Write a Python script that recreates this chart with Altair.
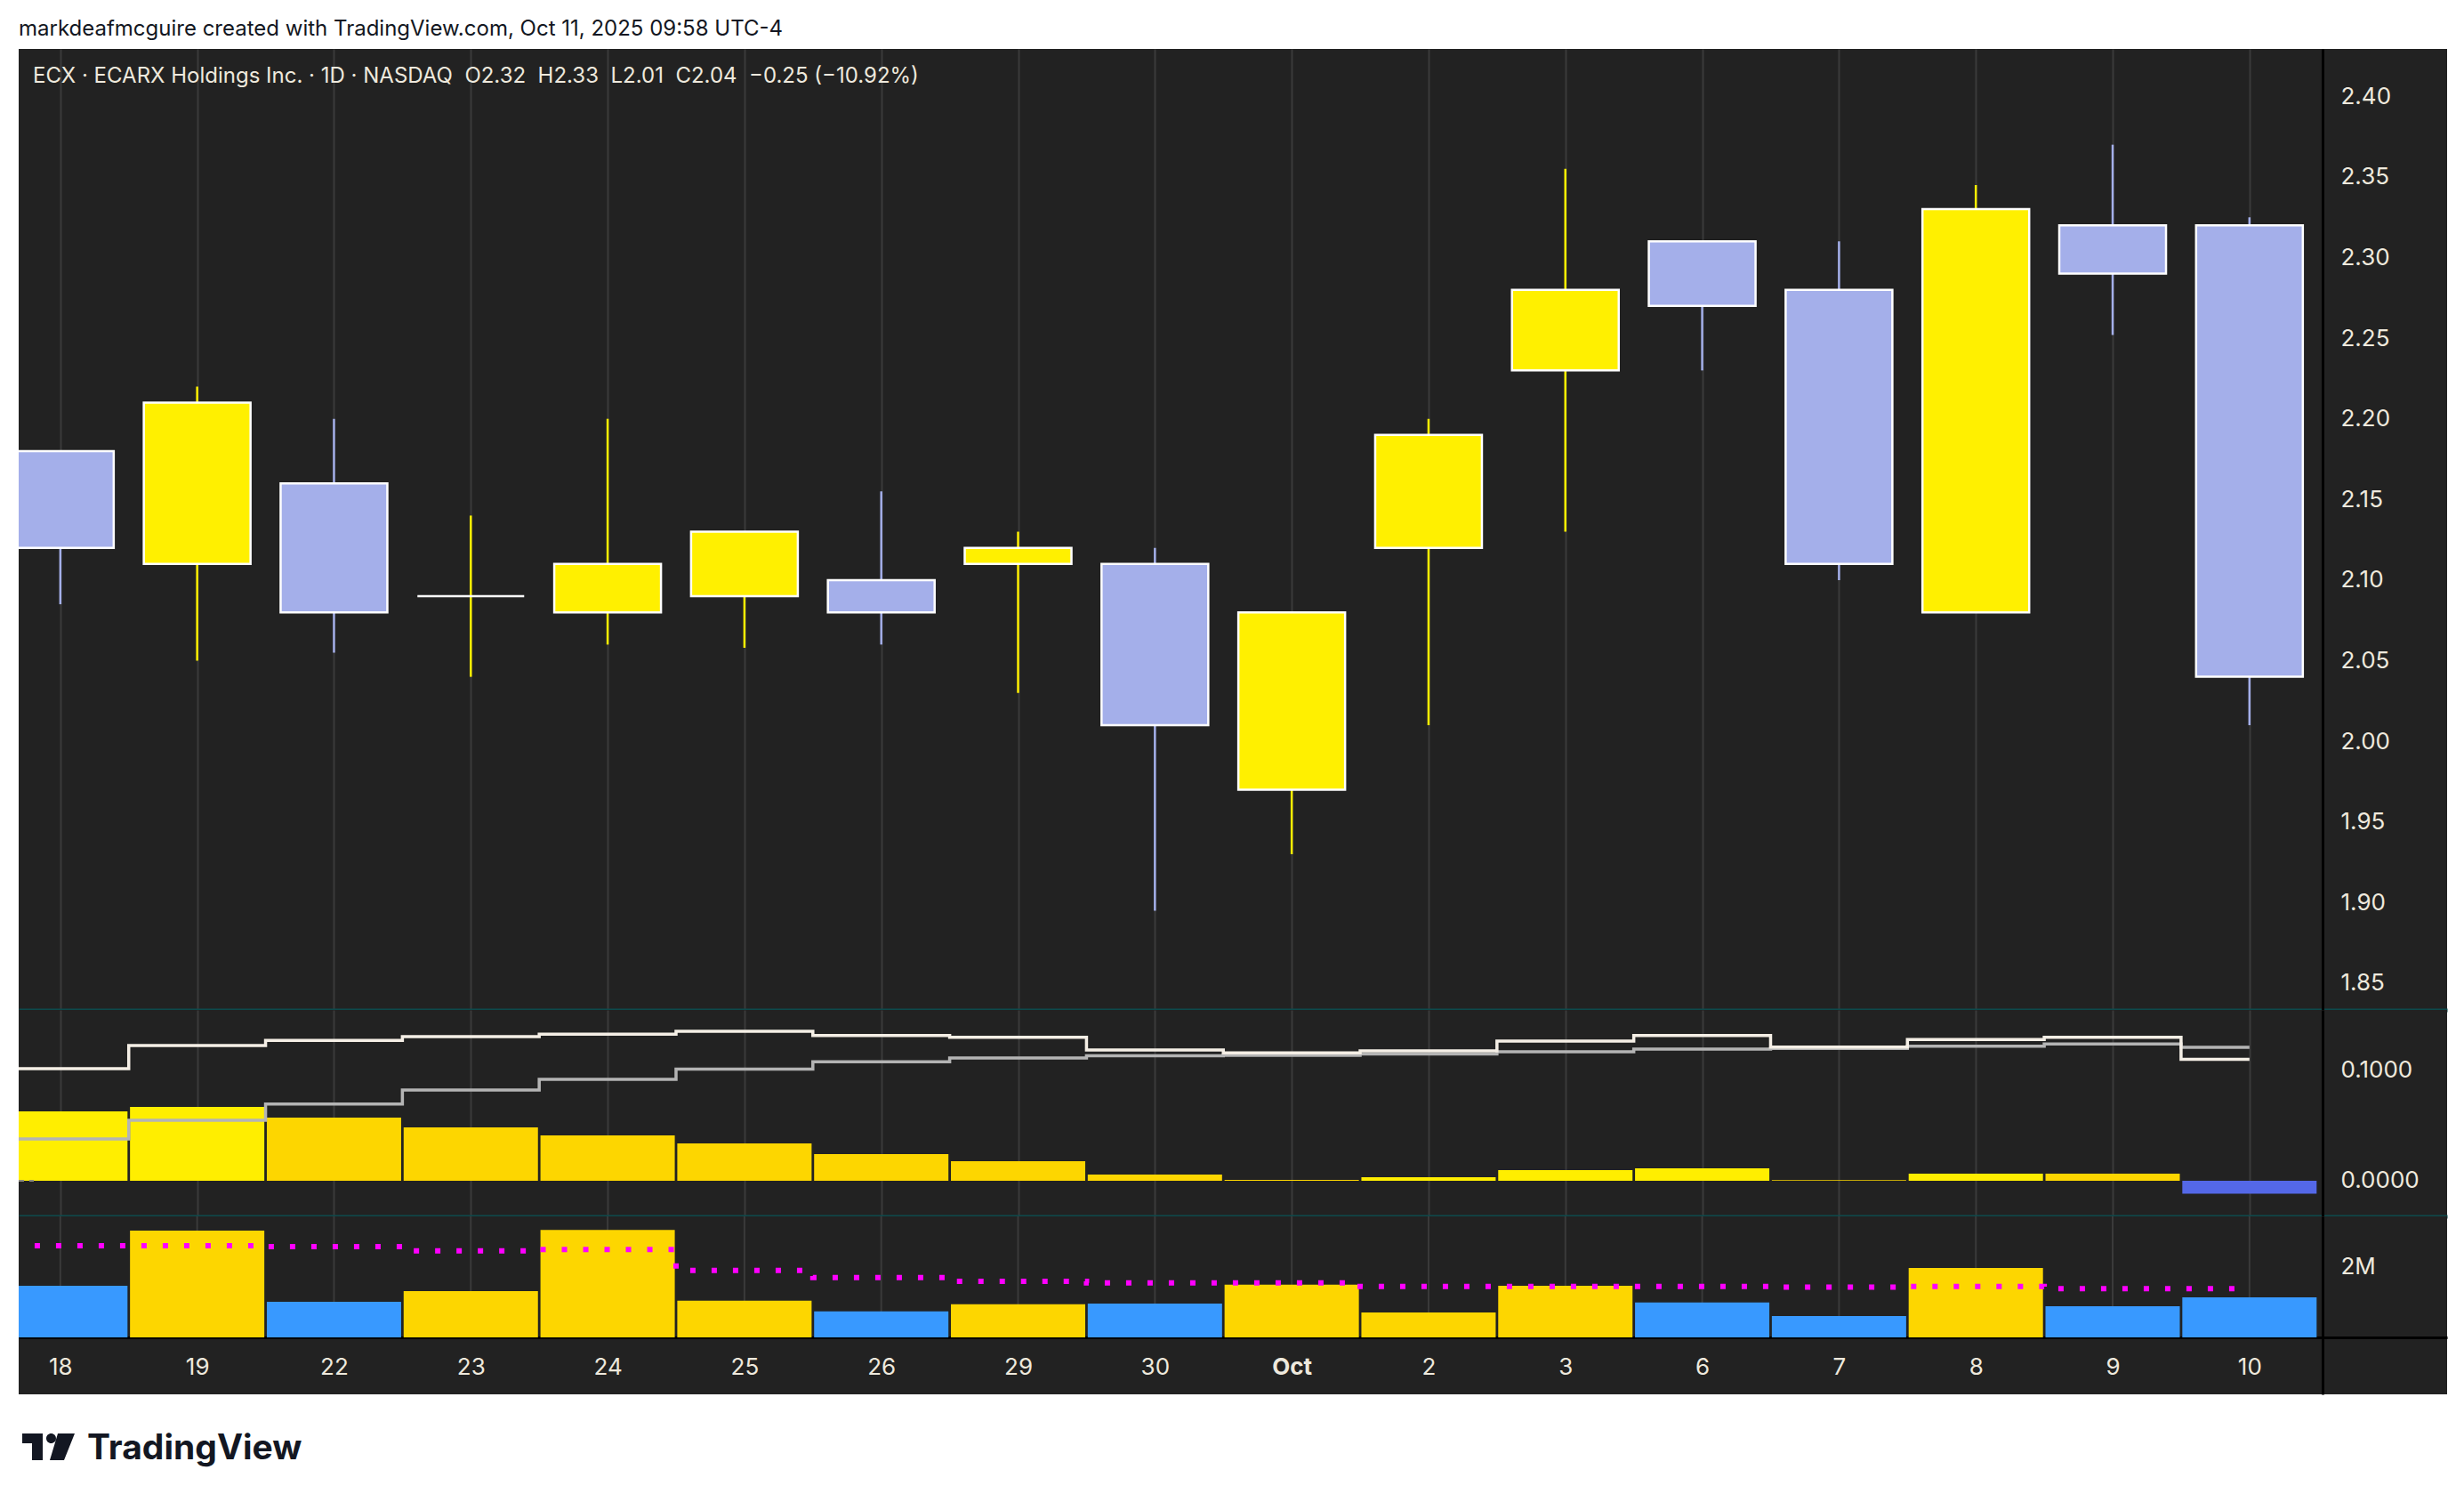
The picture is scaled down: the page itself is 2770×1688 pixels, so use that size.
import altair as alt
import pandas as pd

# ---------------- data ----------------
labels = ["18", "19", "22", "23", "24", "25", "26", "29", "30", "Oct",
          "2", "3", "6", "7", "8", "9", "10"]
open_ = [2.18, 2.11, 2.16, 2.09, 2.08, 2.09, 2.10, 2.11, 2.11, 1.97,
         2.12, 2.23, 2.31, 2.28, 2.08, 2.32, 2.32]
high_ = [2.18, 2.22, 2.20, 2.14, 2.20, 2.13, 2.155, 2.13, 2.12, 2.08,
         2.20, 2.355, 2.31, 2.31, 2.345, 2.37, 2.325]
low_ = [2.085, 2.05, 2.055, 2.04, 2.06, 2.058, 2.06, 2.03, 1.895, 1.93,
        2.01, 2.13, 2.23, 2.10, 2.08, 2.252, 2.01]
close_ = [2.12, 2.21, 2.08, 2.09, 2.11, 2.13, 2.08, 2.12, 2.01, 2.08,
          2.19, 2.28, 2.27, 2.11, 2.33, 2.29, 2.04]

macd_line = [0.1016, 0.1226, 0.1272, 0.1306, 0.1328, 0.1355, 0.1317, 0.1301, 0.1185,
             0.1159, 0.1177, 0.1266, 0.1317, 0.1212, 0.1280, 0.1301, 0.1100]
signal_line = [0.0379, 0.0548, 0.0696, 0.0823, 0.0919, 0.1011, 0.1078, 0.1113, 0.1132,
               0.1137, 0.1148, 0.1169, 0.1194, 0.1199, 0.1220, 0.1240, 0.1210]
histogram = [0.0629, 0.0669, 0.0573, 0.0484, 0.0411, 0.0339, 0.0242, 0.0177, 0.0056,
             0.0008, 0.0032, 0.0097, 0.0113, 0.0005, 0.0064, 0.0064, -0.0118]

volume_m = [1.45, 3.0, 1.0, 1.3, 3.02, 1.03, 0.73, 0.93, 0.95, 1.48,
            0.70, 1.45, 0.98, 0.60, 1.95, 0.875, 1.125]
volume_ma_m = [2.575, 2.575, 2.55, 2.43, 2.47, 1.88, 1.68, 1.575, 1.53, 1.53,
               1.43, 1.43, 1.43, 1.41, 1.43, 1.37, 1.37]

price_ticks = [1.85, 1.90, 1.95, 2.00, 2.05, 2.10, 2.15, 2.20, 2.25, 2.30, 2.35, 2.40]
macd_ticks = [0.0, 0.1]
volume_ticks = [2]

credit = "markdeafmcguire created with TradingView.com, Oct 11, 2025 09:58 UTC-4"
header = ("ECX \u00b7 ECARX Holdings Inc. \u00b7 1D \u00b7 NASDAQ\u00a0\u00a0O2.32\u00a0\u00a0H2.33"
          "\u00a0\u00a0L2.01\u00a0\u00a0C2.04\u00a0\u00a0\u22120.25 (\u221210.92%)")
brand = "TradingView"

# ---------------- styling ----------------
BG = "#222222"
GRID = "#3a3a3a"
TEAL = "#0d4a4c"
TEXT = "#EEE9DD"
UP = "#FFF000"
DOWN = "#A4AFEA"
VOL_UP = "#FDD600"
VOL_DOWN = "#3899FF"
H_GROW = "#FFEE00"
H_FADE = "#FDD600"
H_NEG = "#5468E8"
FONT = "Inter"

W = 2730
n = len(labels)
last = n - 1

df = pd.DataFrame({
    "idx": list(range(n)), "label": labels,
    "open": open_, "high": high_, "low": low_, "close": close_,
    "macd": macd_line, "signal": signal_line, "hist": histogram,
    "vol": volume_m, "volma": volume_ma_m,
})

xscale = alt.Scale(domain=[-0.272, 17.412], nice=False, zero=False)
price_scale = alt.Scale(domain=[1.8334, 2.4294], nice=False, zero=False)
macd_scale = alt.Scale(domain=[-0.0323, 0.1548], nice=False, zero=False)
vol_dom = [-1.6, 3.4]
vol_scale = alt.Scale(domain=vol_dom, nice=False, zero=False)

candle_color = alt.Color("cdir:N", legend=None,
                         scale=alt.Scale(domain=["up", "down"], range=[UP, DOWN]))
vol_color = alt.Color("vdir:N", legend=None,
                      scale=alt.Scale(domain=["vup", "vdown"], range=[VOL_UP, VOL_DOWN]))

label_expr = "[" + ",".join("'%s'" % l for l in labels) + "][datum.value]"

pane_bg = alt.ViewBackground(fill=BG, stroke="transparent", strokeWidth=0)


def pane_x_axis():
    return alt.Axis(values=list(range(n)), labels=False, ticks=False, tickSize=0,
                    grid=True, gridColor=GRID, gridWidth=2,
                    domain=True, domainColor=TEAL, domainWidth=4, title=None)


def right_axis(values, fmt=None, expr=None):
    kw = dict(orient="right", offset=-140, values=values, grid=False, ticks=False,
              tickSize=0, labelPadding=20, labelFont=FONT, labelFontSize=26,
              labelColor=TEXT, labelBaseline="middle", domainColor="#000000",
              domainWidth=3, title=None, labelOverlap=False, labelFlush=False)
    if fmt:
        kw["format"] = fmt
    if expr:
        kw["labelExpr"] = expr
    return alt.Axis(**kw)


base = alt.Chart(df).transform_calculate(
    cdir="datum.close >= datum.open ? 'up' : 'down'",
    vdir="datum.close >= datum.open ? 'vup' : 'vdown'",
)


def step_line(field, yscale, color, width, dash=None):
    mk = dict(color=color, strokeWidth=width, clip=True, interpolate="linear")
    if dash:
        mk["strokeDash"] = dash
    return alt.Chart(df).transform_calculate(
        xs="[datum.idx - 0.5, min(datum.idx + 0.5, %d)]" % last
    ).transform_flatten(["xs"]).transform_calculate(
        ordk="datum.xs + datum.idx * 0.001"
    ).mark_line(**mk).encode(
        x=alt.X("xs:Q", scale=xscale, title=None),
        y=alt.Y(field + ":Q", scale=yscale, title=None),
        order=alt.Order("ordk:Q"),
    )


# ---------------- price pane ----------------
wicks = base.mark_rule(strokeWidth=2.5, clip=True).encode(
    x=alt.X("idx:Q", scale=xscale, axis=pane_x_axis()),
    y=alt.Y("low:Q", scale=price_scale, axis=right_axis(price_ticks, fmt=".2f")),
    y2="high:Q",
    color=candle_color,
)
bodies = base.mark_bar(width=120, stroke="#FFFFFF", strokeWidth=2.5, clip=True).encode(
    x=alt.X("idx:Q", scale=xscale, title=None),
    y=alt.Y("open:Q", scale=price_scale, title=None),
    y2="close:Q",
    color=candle_color,
)
head = alt.Chart(pd.DataFrame({"t": [header]})).mark_text(
    align="left", baseline="middle", font=FONT, fontSize=24, color=TEXT
).encode(x=alt.value(16), y=alt.value(31), text="t:N")

price = alt.layer(wicks, bodies, head).properties(width=W, height=1080, view=pane_bg)

# ---------------- MACD pane ----------------
hist_bars = alt.Chart(df).transform_window(
    prev="lag(hist)", sort=[alt.SortField("idx")]
).transform_calculate(
    state="datum.hist < 0 ? 'neg' : ((datum.prev == null || datum.hist > datum.prev) ? 'grow' : 'fade')"
).mark_bar(width=151, clip=True).encode(
    x=alt.X("idx:Q", scale=xscale, axis=pane_x_axis()),
    y=alt.Y("hist:Q", scale=macd_scale, axis=right_axis(macd_ticks, fmt=".4f")),
    y2=alt.datum(0),
    color=alt.Color("state:N", legend=None,
                    scale=alt.Scale(domain=["grow", "fade", "neg"], range=[H_GROW, H_FADE, H_NEG])),
)
zero_rule = alt.Chart(df).mark_rule(
    color="#8c8a78", strokeWidth=2, strokeDash=[6, 6]
).encode(x=alt.value(0), x2=alt.datum(last + 0.5), y=alt.datum(0))

macd = alt.layer(
    hist_bars, zero_rule,
    step_line("signal", macd_scale, "#B4B4B4", 3.5),
    step_line("macd", macd_scale, "#F5EFE6", 3.5),
).properties(width=W, height=232, view=pane_bg)

# ---------------- volume pane ----------------
vgrid = alt.Chart(df).mark_rule(color=GRID, strokeWidth=2).encode(
    x=alt.X("idx:Q", scale=xscale, title=None),
    y=alt.datum(vol_dom[1]),
    y2=alt.datum(0),
)
vol_bars = base.mark_bar(width=151, clip=True).encode(
    x=alt.X("idx:Q", scale=xscale, axis=alt.Axis(
        orient="bottom", offset=-64, values=list(range(n)), labelExpr=label_expr,
        grid=False, ticks=False, tickSize=0, labelPadding=33, labelBaseline="middle",
        labelFont=FONT, labelFontSize=26, labelColor=TEXT,
        labelFontWeight={"condition": {"test": "datum.value == 9", "value": "bold"},
                         "value": "normal"},
        labelFlush=False, labelOverlap=False,
        domainColor="#000000", domainWidth=3, title=None)),
    y=alt.Y("vol:Q", scale=vol_scale, axis=right_axis(volume_ticks, expr="datum.value + 'M'")),
    y2=alt.datum(0),
    color=vol_color,
)
vol = alt.layer(
    vgrid, vol_bars,
    step_line("volma", vol_scale, "#FF00FF", 6, dash=[6, 18]),
).properties(width=W, height=200, view=pane_bg)

# ---------------- brand footer ----------------
def sc(x, y):
    return "%.4f,%.4f" % ((x - 29.5) / 29.5, (y - 15) / 29.5)

r = 5.5 / 29.5
logo_path = (
    "M" + sc(0, 0) + " L" + sc(23, 0) + " L" + sc(23, 30) + " L" + sc(11, 30) +
    " L" + sc(11, 11) + " L" + sc(0, 11) + " Z " +
    "M" + sc(27, 5.5) + " A%.4f,%.4f 0 1,0 " % (r, r) + sc(38, 5.5) +
    " A%.4f,%.4f 0 1,0 " % (r, r) + sc(27, 5.5) + " Z " +
    "M" + sc(40, 0) + " L" + sc(59, 0) + " L" + sc(47, 30) + " L" + sc(31, 30) + " Z"
)
brand_df = pd.DataFrame({"t": [brand]})
logo = alt.Chart(brand_df).mark_point(
    shape=logo_path, filled=True, fill="#131722", size=3481, opacity=1, strokeWidth=0
).encode(x=alt.value(33.5), y=alt.value(59))
brand_text = alt.Chart(brand_df).mark_text(
    align="left", baseline="alphabetic", font=FONT, fontSize=39, fontWeight="bold",
    color="#131722"
).encode(x=alt.value(77), y=alt.value(73), text="t:N")
footer = alt.layer(logo, brand_text).properties(
    width=W, height=110, view=alt.ViewBackground(stroke="transparent", strokeWidth=0)
)

chart = alt.vconcat(price, macd, vol, footer, spacing=0, bounds="flush").resolve_scale(
    color="independent"
).properties(
    title=alt.TitleParams(text=credit, anchor="start", frame="group", fontSize=24,
                          font=FONT, fontWeight="normal", color="#131722", offset=10),
    padding={"left": 12, "top": 13, "right": 8, "bottom": 8},
    background="white",
).configure_view(stroke="transparent", strokeWidth=0)

chart.save("out.html", embed_options={"renderer": "svg", "actions": False})
